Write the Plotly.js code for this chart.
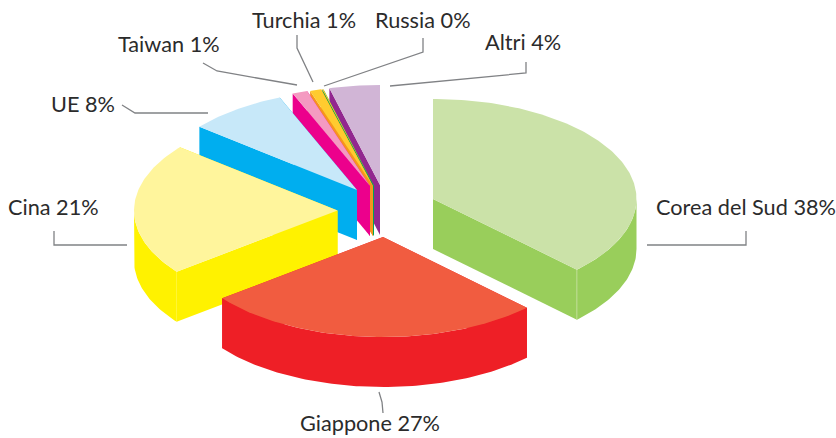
<!DOCTYPE html>
<html><head><meta charset="utf-8">
<script src="https://cdn.plot.ly/plotly-3.0.1.min.js"></script>
<style>html,body{margin:0;padding:0;background:#fff}#c{width:836px;height:438px}</style>
</head><body><div id="c"></div>
<script>
// Data
const categories = ["Corea del Sud","Giappone","Cina","UE","Taiwan","Turchia","Russia","Altri"];
const shownPercent = [38,27,21,8,1,1,0,4];
const values = [37.5,27.0,21.4,7.9,1.2,0.9,0.1,4.0];

// Styles and layout of the exploded tilted pie
const topColors  = ["#cbe2a8","#f15c40","#fff59c","#c7e8f9","#f49ac1","#ffcb2f","#ffcb2f","#d1b5d6"];
const sideColors = ["#99ce5b","#ee1f26","#fff200","#00aeef","#ec008c","#f7941d","#00a651","#92278f"];
const centerX = [433,383,337.5,357,370,373,374,380];
const centerY = [199,237,210.5,190,186,186,186,185];
const radiusX = 203.5, radiusY = 100, depth = 50;
const drawOrder = [7,6,5,4,3,2,0,1];
const labelX = [654,298,6,49,116,250,373,483];
const labelY = [207,423,207,104,44,20,20,42];
const leaders = [
 [[647,245],[746,245],[746,231]],
 [[379,392],[382,402],[383,413]],
 [[54,231],[54,245],[127,245]],
 [[122,105],[135,113],[208,113]],
 [[203,63],[217,71],[297,85]],
 [[297,35],[297,48],[313,82]],
 [[423,38],[423,52],[324,86]],
 [[390,86],[526,73],[526,62]]
];

const total = values.reduce((a,b)=>a+b,0);
const rad = d => d*Math.PI/180;
const traces = [];
function poly(xs,ys,color){
  traces.push({type:"scatter",mode:"lines",x:[...xs,xs[0]],y:[...ys,ys[0]],fill:"toself",
    fillcolor:color,line:{width:0,color:color},hoverinfo:"skip",showlegend:false});
}
function pt(i,deg,dy){
  return [centerX[i]+radiusX*Math.sin(rad(deg)), centerY[i]-radiusY*Math.cos(rad(deg))+dy];
}
let acc = 0;
const angles = values.map(v=>{const a=[acc,acc+v/total*360];acc=a[1];return a;});
function wall(i,deg){
  const a=pt(i,deg,0), b=pt(i,deg,depth);
  poly([centerX[i],a[0],b[0],centerX[i]],[centerY[i],a[1],b[1],centerY[i]+depth],sideColors[i]);
}
function rim(i,a0,a1){
  const lo=Math.max(a0,90), hi=Math.min(a1,270);
  if(hi<=lo) return;
  const n=Math.max(4,Math.ceil(hi-lo)), xs=[], ys=[];
  for(let k=0;k<=n;k++){const p=pt(i,lo+(hi-lo)*k/n,0);xs.push(p[0]);ys.push(p[1]);}
  for(let k=n;k>=0;k--){const p=pt(i,lo+(hi-lo)*k/n,depth);xs.push(p[0]);ys.push(p[1]);}
  poly(xs,ys,sideColors[i]);
}
function top_(i,a0,a1){
  const n=Math.max(4,Math.ceil(a1-a0)), xs=[centerX[i]], ys=[centerY[i]];
  for(let k=0;k<=n;k++){const p=pt(i,a0+(a1-a0)*k/n,0);xs.push(p[0]);ys.push(p[1]);}
  poly(xs,ys,topColors[i]);
}
drawOrder.forEach(i=>{
  const [a0,a1]=angles[i];
  wall(i,a0); wall(i,a1); rim(i,a0,a1); top_(i,a0,a1);
});
// light seam between the wall and the rim of the largest slice
{const a=pt(0,angles[0][1],0), b=pt(0,angles[0][1],depth);
 traces.push({type:"scatter",mode:"lines",x:[a[0],b[0]],y:[a[1],b[1]],line:{width:0.7,color:topColors[0]},hoverinfo:"skip",showlegend:false});}

const shapes = leaders.map(l=>({type:"path",xref:"x",yref:"y",
  path:"M"+l.map(p=>p[0]+" "+p[1]).join("L"),line:{color:"#808285",width:1.3},fillcolor:"rgba(0,0,0,0)"}));
const annotations = categories.map((c,i)=>({x:labelX[i],y:labelY[i],xref:"x",yref:"y",xanchor:"left",yanchor:"middle",
  showarrow:false,text:c+" "+shownPercent[i]+"%",font:{family:"Lato, sans-serif",size:21.7,color:"#2b2b2b"}}));

Plotly.newPlot("c",traces,{
  width:836,height:438,margin:{l:0,r:0,t:0,b:0},paper_bgcolor:"#fff",plot_bgcolor:"#fff",showlegend:false,
  xaxis:{range:[0,836],visible:false,fixedrange:true},
  yaxis:{range:[438,0],visible:false,fixedrange:true},
  shapes,annotations
},{displayModeBar:false,staticPlot:true});
</script></body></html>
